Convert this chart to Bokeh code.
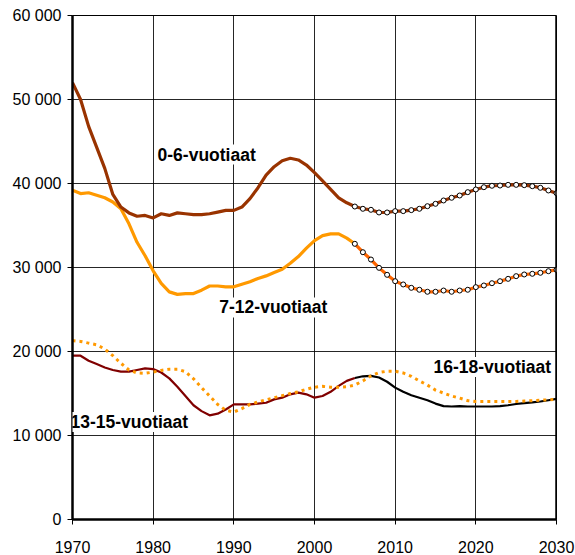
from bokeh.plotting import figure
from bokeh.models import Range1d, FixedTicker, Label, Span, ColumnDataSource
from bokeh.embed import file_html
from bokeh.resources import INLINE

years = list(range(1970, 2031))

age_0_6 = [52000, 50000, 46800, 44300, 41800, 38700, 37200, 36500, 36100, 36200,
           35900, 36400, 36200, 36500, 36400, 36300, 36300, 36400, 36600, 36800,
           36800, 37200, 38200, 39500, 41000, 42000, 42700, 43000, 42800, 42200,
           41300, 40300, 39300, 38300, 37700, 37260, 36990, 36870, 36550, 36550,
           36710, 36710, 36830, 36990, 37300, 37580, 37980, 38300, 38570, 38970,
           39290, 39560, 39730, 39760, 39840, 39840, 39800, 39680, 39490, 39170,
           38850]

age_7_12 = [39200, 38800, 38900, 38600, 38300, 37800, 37000, 35200, 33000, 31400,
            29600, 28100, 27100, 26800, 26900, 26900, 27300, 27800, 27800, 27700,
            27700, 28000, 28300, 28700, 29000, 29400, 29800, 30500, 31300, 32300,
            33200, 33800, 34000, 34000, 33500, 32820, 31820, 30950, 29960, 29130,
            28370, 27980, 27580, 27350, 27110, 27110, 27260, 27110, 27260, 27350,
            27660, 27860, 28130, 28370, 28650, 28970, 29170, 29250, 29370, 29560,
            29720]

age_13_15 = [19500, 19500, 18900, 18500, 18100, 17800, 17600, 17600, 17800, 18000,
             17900, 17500, 16800, 15800, 14700, 13600, 12900, 12400, 12600, 13100,
             13700, 13700, 13700, 13800, 13900, 14300, 14500, 14900, 15100, 14900,
             14500, 14700, 15200, 15900, 16500, 16850, 17050, 17100, 16900, 16400,
             15700, 15200, 14800, 14500, 14200, 13800, 13500, 13450, 13500, 13450,
             13450, 13450, 13450, 13500, 13600, 13750, 13850, 13950, 14050, 14200,
             14350]

age_16_18 = [21300, 21200, 21000, 20800, 20300, 19500, 18600, 17800, 17450, 17400,
             17550, 17750, 17900, 17900, 17600, 16750, 15700, 14700, 13700, 13000,
             12800, 13200, 13700, 14000, 14250, 14500, 14750, 15000, 15200, 15500,
             15750, 15850, 15750, 15750, 15800, 16000, 16500, 17100, 17500, 17650,
             17650, 17450, 17050, 16500, 16000, 15400, 15050, 14700, 14450, 14150,
             14050, 14050, 14050, 14050, 14050, 14050, 14100, 14150, 14200, 14250,
             14300]

projection_start = 2005

x_ticks = [1970, 1980, 1990, 2000, 2010, 2020, 2030]
y_ticks = [0, 10000, 20000, 30000, 40000, 50000, 60000]
y_tick_labels = ["0", "10 000", "20 000", "30 000", "40 000", "50 000", "60 000"]
series_labels = ["0-6-vuotiaat", "7-12-vuotiaat", "13-15-vuotiaat", "16-18-vuotiaat"]

k = years.index(projection_start)
src = ColumnDataSource(dict(year=years, a06=age_0_6, a712=age_7_12,
                            a1315=age_13_15, a1618=age_16_18))
hist = ColumnDataSource(dict(year=years[:k + 1], a712=age_7_12[:k + 1], a1315=age_13_15[:k + 1]))
proj = ColumnDataSource(dict(year=years[k:], a06=age_0_6[k:], a712=age_7_12[k:], a1315=age_13_15[k:]))

p = figure(width=575, height=555, x_range=Range1d(1970, 2030), y_range=Range1d(0, 60000),
           output_backend="svg", toolbar_location=None,
           min_border_left=72, min_border_right=19, min_border_top=15, min_border_bottom=36)
p.background_fill_color = "white"
p.border_fill_color = "white"
p.outline_line_color = "black"
p.outline_line_width = 1

FONT = "Liberation Sans"
for ax in (p.xaxis[0], p.yaxis[0]):
    ax.axis_line_width = 2.5
    ax.axis_line_color = "black"
    ax.major_tick_in = 0
    ax.major_tick_out = 5
    ax.major_tick_line_color = "black"
    ax.minor_tick_line_color = None
    ax.major_label_text_font = FONT
    ax.major_label_text_font_size = "16px"
    ax.major_label_text_color = "black"
p.xaxis.ticker = FixedTicker(ticks=x_ticks)
p.xaxis.major_label_standoff = 16
p.yaxis.ticker = FixedTicker(ticks=y_ticks)
p.yaxis.major_label_overrides = {t: s for t, s in zip(y_ticks, y_tick_labels)}
p.yaxis.major_label_standoff = 6
p.xgrid.ticker = FixedTicker(ticks=x_ticks)
p.ygrid.ticker = FixedTicker(ticks=y_ticks)
p.grid.grid_line_color = "black"
p.grid.grid_line_alpha = 0.85
p.grid.grid_line_width = 1

p.add_layout(Span(location=2030, dimension="height", line_color="black", line_width=2.5))

# 13-15 and 16-18
p.line("year", "a1315", source=hist, line_color="#800000", line_width=2.2)
p.line("year", "a1315", source=proj, line_color="black", line_width=2.2)
p.line("year", "a1618", source=src, line_color="#FF9900", line_width=3, line_dash="3 4")

# 7-12
p.line("year", "a712", source=hist, line_color="#FF9900", line_width=3.2)
p.line("year", "a712", source=proj, line_color="#FF6600", line_width=3.2)
p.scatter("year", "a712", source=proj, size=5, fill_color="white", line_color="black", line_width=1)

# 0-6
p.line("year", "a06", source=src, line_color="#993300", line_width=3.2)
p.scatter("year", "a06", source=proj, size=5, fill_color="white", line_color="black", line_width=1)

label_pos = [(1980.54, 43450), (1988.2, 25240), (1969.75, 11610), (2014.75, 18150)]
for (lx, ly), txt in zip(label_pos, series_labels):
    p.add_layout(Label(x=lx, y=ly, text=txt, text_font=FONT, text_font_style="bold",
                       text_font_size="17.5px", text_color="black", text_baseline="middle",
                       text_align="left", background_fill_color="white"))

open("out.html", "w").write(file_html(p, INLINE))
